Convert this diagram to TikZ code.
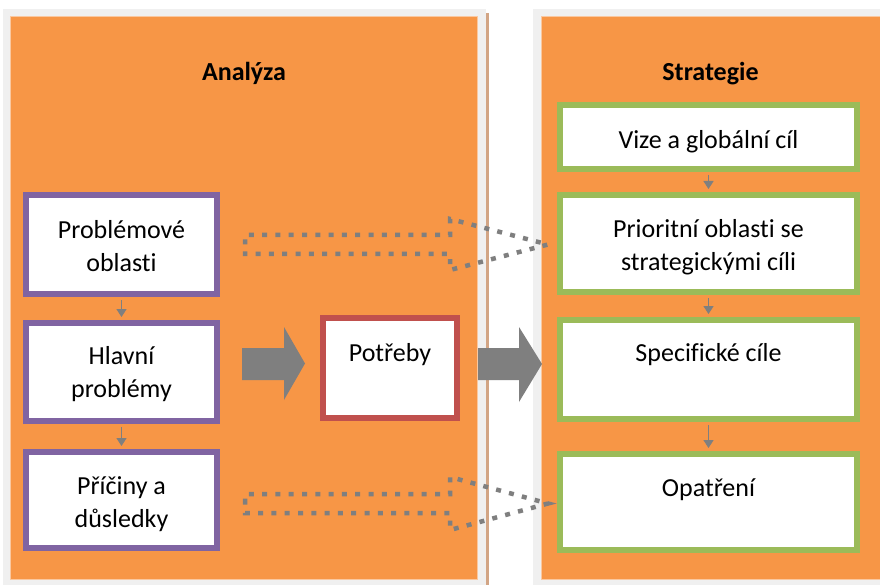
\documentclass[tikz,border=0pt]{standalone}
\usepackage{fontspec}
\setmainfont{Carlito}[Ligatures={NoCommon}]
\usetikzlibrary{arrows.meta}
\definecolor{orng}{HTML}{F79646}
\definecolor{orngedge}{HTML}{FAC8A0}
\definecolor{frame}{HTML}{F0F0F0}
\definecolor{brwn}{HTML}{D2A585}
\definecolor{purp}{HTML}{8064A2}
\definecolor{redb}{HTML}{C0504D}
\definecolor{grn}{HTML}{9BBB59}
\definecolor{gry}{HTML}{7F7F7F}
\begin{document}
\begin{tikzpicture}[x=1pt,y=-1pt,
  txt/.style={font=\fontsize{26}{33.5}\selectfont, text=black, align=center, inner sep=0pt},
  ttl/.style={font=\fontsize{26}{32}\selectfont\bfseries, text=black, inner sep=0pt},
  box/.style={txt, draw, line width=6pt, fill=white, line join=miter},
  pbox/.style={box, draw=purp, minimum width=191pt},
  gbox/.style={box, draw=grn, minimum width=297pt},
  rbox/.style={box, draw=redb, minimum width=134pt},
  sarr/.style={draw=gry, line width=1.6pt, shorten <=3pt, shorten >=3pt, -{Triangle[width=10pt,length=8pt]}},
  dotarr/.style={draw=gry, line width=4.5pt, dash pattern=on 5pt off 8.3pt, line join=miter},
  bigarr/.style={fill=gry}]
\useasboundingbox (0,0) rectangle (880,585);
\fill[white] (0,0) rectangle (880,585);
% panels
\fill[frame] (3,9) rectangle (486,585);
\fill[frame] (533,9) rectangle (880,585);
\fill[orng] (10.7,16) rectangle (477,579);
\fill[orng] (541,16) rectangle (880,579);
\draw[orngedge, line width=0.8pt] (10.7,16) rectangle (477,579);
\draw[orngedge, line width=0.8pt] (541,16) -- (880,16);
\draw[orngedge, line width=0.8pt] (541,579) -- (541,16);
\draw[orngedge, line width=0.8pt] (541,579) -- (880,579);
\fill[brwn] (486,13) rectangle (489,585);
% titles
\node[ttl, anchor=base] (ta) at (244,81) {Analýza};
\node[ttl, anchor=base] (ts) at (710.5,81) {Strategie};
% left boxes
\node[pbox, minimum height=99pt,
  label={[txt, yshift=-1.5pt]center:{Problémové\\oblasti}}] (p1) at (121.5,244.5) {};
\node[pbox, minimum height=98pt,
  label={[txt, yshift=-2pt]center:{Hlavní\\problémy}}] (p2) at (121.5,372) {};
\node[pbox, minimum height=96pt,
  label={[txt, yshift=-4pt]center:{Příčiny a\\důsledky}}] (p3) at (121.5,500) {};
% needs
\node[rbox, minimum height=100pt,
  label={[txt, anchor=base, yshift=13pt]center:Potřeby}] (pot) at (390,368) {};
% right boxes
\node[gbox, minimum height=64pt,
  label={[txt, yshift=-5pt]center:Vize a globální cíl}] (s1) at (708.5,137) {};
\node[gbox, minimum height=97pt,
  label={[txt, yshift=-3.5pt]center:{Prioritní oblasti se\\strategickými cíli}}] (s2) at (708.5,243.5) {};
\node[gbox, minimum height=99pt,
  label={[txt, anchor=base, yshift=14.5pt]center:Specifické cíle}] (s3) at (708.5,369.5) {};
\node[gbox, minimum height=96pt,
  label={[txt, anchor=base, yshift=12pt]center:Opatření}] (s4) at (708.5,502) {};
% small arrows
\draw[sarr] (p1.south) -- (p2.north);
\draw[sarr] (p2.south) -- (p3.north);
\draw[sarr] (s1.south) -- (s2.north);
\draw[sarr] (s2.south) -- (s3.north);
\draw[sarr] (s3.south) -- (s4.north);
% big arrows
\fill[bigarr] (242,348) -- (284,348) -- (284,327) -- (305,363.5) -- (284,400) -- (284,380) -- (242,380) -- cycle;
\fill[bigarr] (478,348) -- (519,348) -- (519,327) -- (542,364) -- (519,402) -- (519,380) -- (478,380) -- cycle;
% dotted arrows
\draw[dotarr] (245,244.5) -- (245,235) -- (450,235) -- (450,219) -- (548,244.5) -- (450,270) -- (450,254) -- (245,254) -- cycle;
\draw[dotarr] (245,503.5) -- (245,494) -- (450,494) -- (450,477) -- (548,503.5) -- (450,530) -- (450,513) -- (245,513) -- cycle;
\end{tikzpicture}
\end{document}
